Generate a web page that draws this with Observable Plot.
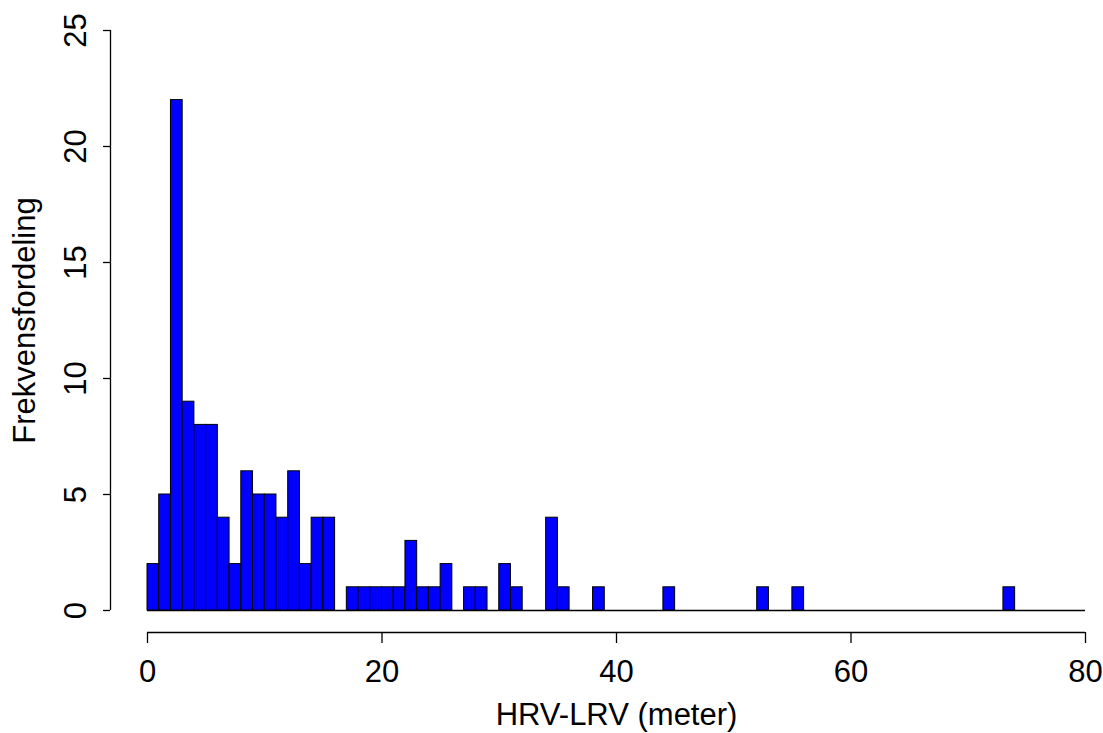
<!DOCTYPE html>
<html>
<head>
<meta charset="utf-8">
<script src="https://cdn.jsdelivr.net/npm/d3@7"></script>
<script src="https://cdn.jsdelivr.net/npm/@observablehq/plot@0.6"></script>
<style>
  html, body { margin: 0; padding: 0; background: #fff; }
</style>
</head>
<body>
<div id="chart"></div>
<script>
// Histogram bins (width 1 metre): left edge of bin and its count
const binStart = [0,1,2,3,4,5,6,7,8,9,10,11,12,13,14,15,17,18,19,20,21,22,23,24,25,27,28,30,31,34,35,38,44,52,55,73];
const counts   = [2,5,22,9,8,8,4,2,6,5,5,4,6,2,4,4,1,1,1,1,1,3,1,1,2,1,1,2,1,4,1,1,1,1,1,1];
const binWidth = 1;
const xTicks = [0, 20, 40, 60, 80];
const yTicks = [0, 5, 10, 15, 20, 25];
const xLabel = "HRV-LRV (meter)";
const yLabel = "Frekvensfordeling";

const bins = binStart.map((s, i) => ({x1: s, x2: s + binWidth, count: counts[i]}));

const fs = 31;
const chart = Plot.plot({
  width: 1103,
  height: 733,
  marginLeft: 147,
  marginRight: 18,
  marginTop: 30,
  marginBottom: 123,
  style: {fontFamily: "'Liberation Sans', Arial, Helvetica, sans-serif", color: "black", background: "white", fontSize: fs + "px"},
  x: {domain: [0, 80]},
  y: {domain: [0, 25]},
  marks: [
    Plot.ruleY([0], {x1: 0, x2: 80, stroke: "black", strokeWidth: 1.3}),
    Plot.rectY(bins, {x1: "x1", x2: "x2", y: "count", fill: "#0000FF", stroke: "black", strokeWidth: 1, inset: 0}),
    // x axis
    Plot.ruleY([0], {x1: 0, x2: 80, dy: 22, stroke: "black", strokeWidth: 1.3}),
    Plot.axisX({ticks: xTicks, tickSize: 11, dy: 22, tickPadding: 16, label: null, fontSize: fs, strokeWidth: 1.3}),
    // y axis
    Plot.ruleX([0], {y1: 0, y2: 25, dx: -37, stroke: "black", strokeWidth: 1.3}),
    Plot.axisY({ticks: yTicks, tickSize: 7, dx: -37, tickRotate: -90, tickPadding: 18, label: null, fontSize: fs, strokeWidth: 1.3}),
    Plot.text([xLabel], {frameAnchor: "bottom", dy: 105, lineAnchor: "middle", fontSize: fs, fill: "black"}),
    Plot.text([yLabel], {frameAnchor: "left", dx: -122, rotate: -90, textAnchor: "middle", fontSize: fs, fill: "black"})
  ]
});
document.getElementById("chart").appendChild(chart);
</script>
</body>
</html>
